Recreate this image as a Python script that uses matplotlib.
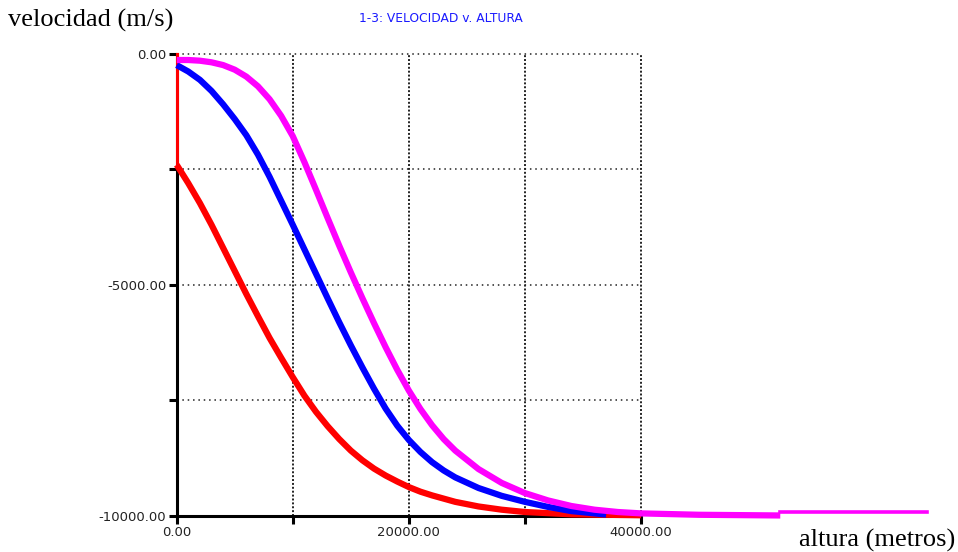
import matplotlib
matplotlib.use("Agg")
from matplotlib import pyplot as plt

# altura (m) / velocidad (m/s)
red_drop_x = [0, 0]
red_drop_v = [0, -2400]
red_x = [0, 1000, 2000, 3000, 4000, 5000, 6000, 7000, 8000, 9000, 10000, 11000,
         12000, 13000, 14000, 15000, 16000, 17000, 18000, 19000, 20000, 21000,
         22000, 24000, 26000, 28000, 30000, 34000, 40000]
red_v = [-2400, -2800, -3230, -3700, -4200, -4700, -5200, -5680, -6150, -6580,
         -7000, -7400, -7750, -8060, -8340, -8590, -8800, -8980, -9130, -9260,
         -9380, -9480, -9560, -9700, -9800, -9870, -9920, -9970, -9990]

blue_x = [0, 1000, 2000, 3000, 4000, 5000, 6000, 7000, 8000, 9000, 10000, 11000,
          12000, 13000, 14000, 15000, 16000, 17000, 18000, 19000, 20000, 21000,
          22000, 23000, 24000, 26000, 28000, 30000, 32000, 34000, 37000]
blue_v = [-240, -380, -560, -800, -1090, -1410, -1760, -2180, -2660, -3180,
          -3700, -4230, -4760, -5290, -5810, -6310, -6790, -7250, -7680, -8050,
          -8360, -8620, -8840, -9020, -9170, -9400, -9570, -9700, -9810, -9900,
          -9975]

mag_x = [0, 1000, 2000, 3000, 4000, 5000, 6000, 7000, 8000, 9000, 10000, 11000,
         12000, 13000, 14000, 15000, 16000, 17000, 18000, 19000, 20000, 21000,
         22000, 23000, 24000, 26000, 28000, 30000, 32000, 34000, 36000, 38000,
         40000, 45000, 52000]
mag_v = [-130, -130, -145, -180, -240, -340, -490, -700, -980, -1340, -1780,
         -2340, -2940, -3550, -4150, -4730, -5290, -5830, -6350, -6840, -7290,
         -7690, -8040, -8340, -8590, -8990, -9290, -9510, -9670, -9790, -9870,
         -9920, -9950, -9980, -9995]
mag_tail_x = [52000, 64600]
mag_tail_v = [-9920, -9920]

x_ticks = [0, 10000, 20000, 30000, 40000]
x_labels = ["0.00", "", "20000.00", "", "40000.00"]
y_ticks = [0, -2500, -5000, -7500, -10000]
y_labels = ["0.00", "", "-5000.00", "", "-10000.00"]

fig = plt.figure(figsize=(9.58, 5.52), dpi=100)
ax = fig.add_axes([176.7 / 958, 1 - 515.7 / 552, (641 - 176.7) / 958, (515.7 - 54) / 552])

ax.plot(red_drop_x, red_drop_v, color="#ff0000", lw=2.2, clip_on=False, zorder=3)
ax.plot(red_x, red_v, color="#ff0000", lw=4.5, clip_on=False, zorder=3,
        solid_capstyle="butt")
ax.plot(blue_x, blue_v, color="#0000ff", lw=4.5, clip_on=False, zorder=4,
        solid_capstyle="butt")
ax.plot(mag_x, mag_v, color="#ff00ff", lw=4.5, clip_on=False, zorder=5,
        solid_capstyle="butt")
ax.plot(mag_tail_x, mag_tail_v, color="#ff00ff", lw=2.6, clip_on=False, zorder=5)

ax.set_xlim(0, 40000)
ax.set_ylim(-10000, 0)
ax.set_xticks(x_ticks)
ax.set_xticklabels(x_labels)
ax.set_yticks(y_ticks)
ax.set_yticklabels(y_labels)

ax.xaxis.grid(True, color="#222222", linestyle=(0, (1, 1)), lw=1.4)
ax.yaxis.grid(True, color="#222222", linestyle=(0, (1, 2.5)), lw=1.1)
for gl in ax.get_xgridlines() + ax.get_ygridlines():
    gl.set_clip_on(False)
for s in ["top", "right"]:
    ax.spines[s].set_visible(False)
for s in ["left", "bottom"]:
    ax.spines[s].set_linewidth(2.2)
    ax.spines[s].set_zorder(2.5)
ax.tick_params(width=2.2, length=5.5, labelsize=9.5, pad=2, colors="black")
for lab in ax.get_xticklabels() + ax.get_yticklabels():
    lab.set_family("DejaVu Sans")
    lab.set_color("#222222")

fig.text(8 / 958, 1 - 20 / 552, "velocidad (m/s)", family="Liberation Serif",
         fontsize=19, va="center", ha="left")
fig.text(441 / 958, 1 - 18 / 552, "1-3: VELOCIDAD v. ALTURA", family="DejaVu Sans",
         fontsize=8.8, color="#1a1aff", va="center", ha="center")
fig.text(955 / 958, 1 - 540 / 552, "altura (metros)", family="Liberation Serif",
         fontsize=19, va="center", ha="right")

fig.savefig("out.png", dpi=100)
